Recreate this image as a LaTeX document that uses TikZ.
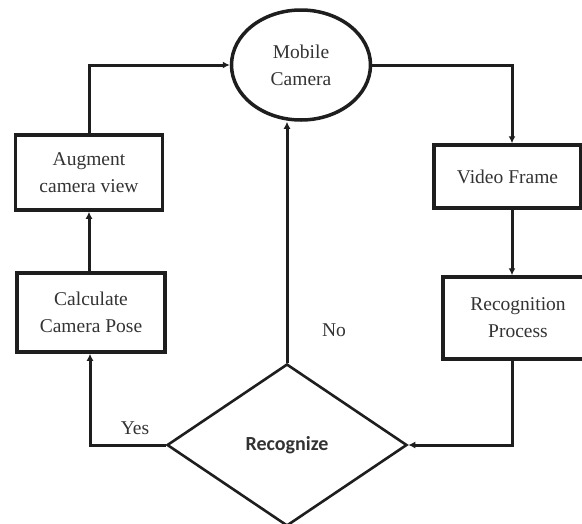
\documentclass[tikz,border=0pt]{standalone}
\usepackage{fontspec}
\setmainfont{Liberation Serif}
\newfontfamily\serf{Liberation Serif}
\newfontfamily\calib{Carlito}
\usetikzlibrary{shapes.geometric,arrows.meta}
\definecolor{txt}{HTML}{333333}
\definecolor{ln}{HTML}{1E1E1E}
\begin{document}
\begin{tikzpicture}[x=1pt,y=-1pt,
  every node/.style={font=\serf\fontsize{19.5}{27}\selectfont, text=txt, align=center},
  box/.style={draw=ln, line width=3.5pt, rectangle, inner sep=0pt},
  arr/.style={draw=ln, line width=3pt, -{Latex[length=7pt,width=7pt]}}]
\useasboundingbox (0,0) rectangle (582,523);
\node[draw=ln, line width=3.5pt, ellipse, minimum width=139pt, minimum height=110pt, inner sep=0pt] (cam) at (301,65) {Mobile\\Camera};
\node[box, minimum width=147pt, minimum height=75pt] (aug) at (89,172.5) {Augment\\camera view};
\node[box, minimum width=148pt, minimum height=79pt] (calc) at (91,312.5) {Calculate\\Camera Pose};
\node[box, minimum width=147pt, minimum height=63pt] (vid) at (507.5,176.5) {Video Frame};
\node[box, minimum width=150pt, minimum height=82pt] (rec) at (518,318) {Recognition\\Process};
\node[draw=ln, line width=2.6pt, diamond, minimum width=240pt, minimum height=162pt, inner sep=0pt, font=\calib\bfseries\fontsize{20}{24}\selectfont] (rz) at (287,445) {Recognize};
\coordinate (tl) at (89,65);
\coordinate (tr) at (512,65);
\coordinate (bl) at (90,445);
\coordinate (br) at (512,445);
\draw[arr] (aug.north -| tl) -- (tl) -- (cam.west |- tl);
\draw[arr] (cam.east |- tr) -- (tr) -- (vid.north -| tr);
\draw[arr] (vid.south -| tr) -- (rec.north -| tr);
\draw[arr] (rec.south -| br) -- (br) -- (rz.east);
\draw[arr] (rz.west) -- (bl) -- (calc.south -| bl);
\draw[arr] (calc.north -| tl) -- (aug.south -| tl);
\draw[arr] (rz.north) -- (rz.north |- cam.south);
\node (no) at (334,330) {No};
\node (yes) at (135,428) {Yes};
\end{tikzpicture}
\end{document}
